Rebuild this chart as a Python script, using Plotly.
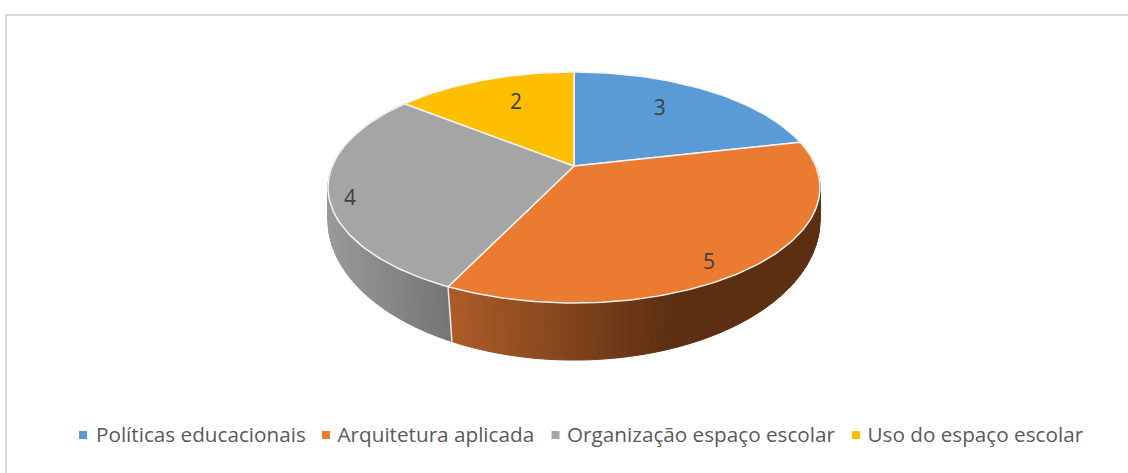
import math
import plotly.graph_objects as go

categories = ["Políticas educacionais", "Arquitetura aplicada", "Organização espaço escolar", "Uso do espaço escolar"]
values = [3, 5, 4, 2]
colors = ["#5B9BD5", "#EB7B30", "#A5A5A5", "#FDBF00"]
# side-wall shading: (screen x, colour) stops per slice; None = hidden wall
wall_stops = [None,
              [(450, (173, 92, 40)), (670, (92, 47, 18)), (830, (92, 47, 18))],
              [(325, (154, 154, 154)), (450, (117, 117, 117))],
              None]
label_r = [0.707, 0.879, 0.92, 0.707]
label_dtheta = [-4.7, 5.3, -3.8, 3.3]
LABEL_DY = 3
legend_marker_x = [83, 326, 555.5, 856]
legend_text_x = [96, 337.5, 567, 867.5]
LEGEND_Y = 435
LEGEND_TEXT_Y = 436.5

# projection of the tilted disc (top face and lower rim)
TOP = dict(cx=574, cy=166, k=0.186, A=111.5, C=241.7)
LOW = dict(cx=574, cy=199, k=0.15, A=136.9, C=243.2)


def proj(theta, r, p):
    t = math.radians(theta)
    u, v = r * math.sin(t), r * math.cos(t)
    d = 1 + p["k"] * v
    return p["cx"] + p["C"] * u / d, p["cy"] - p["A"] * v / d


def wall_color(x, stops):
    if x <= stops[0][0]:
        c = stops[0][1]
    elif x >= stops[-1][0]:
        c = stops[-1][1]
    else:
        for (x0, c0), (x1, c1) in zip(stops, stops[1:]):
            if x0 <= x <= x1:
                f = (x - x0) / (x1 - x0)
                c = tuple(a + (b - a) * f for a, b in zip(c0, c1))
                break
    return "rgb(%d,%d,%d)" % tuple(round(a) for a in c)


fig = go.Figure()
total = sum(values)
edges = [0.0]
for val in values:
    edges.append(edges[-1] + 360.0 * val / total)

# side walls
for i in range(len(values)):
    stops = wall_stops[i]
    if stops is None:
        continue
    a0, a1 = edges[i], edges[i + 1]
    n = int((a1 - a0) / 1.5)
    for j in range(n):
        t0 = a0 + (a1 - a0) * j / n
        t1 = a0 + (a1 - a0) * (j + 1) / n
        p = [proj(t0, 1, TOP), proj(t1, 1, TOP), proj(t1, 1, LOW), proj(t0, 1, LOW)]
        col = wall_color(sum(q[0] for q in p) / 4, stops)
        fig.add_trace(go.Scatter(x=[q[0] for q in p] + [p[0][0]], y=[q[1] for q in p] + [p[0][1]],
                                 mode="lines", fill="toself", fillcolor=col,
                                 line=dict(color=col, width=1), hoverinfo="skip", showlegend=False))

# seams on the wall
for i in range(len(values)):
    if wall_stops[i] is not None and wall_stops[i - 1] is not None:
        a, b = proj(edges[i], 1, TOP), proj(edges[i], 1, LOW)
        fig.add_trace(go.Scatter(x=[a[0], b[0]], y=[a[1], b[1]], mode="lines",
                                 line=dict(color="#E8E8E8", width=1.5), hoverinfo="skip", showlegend=False))

# top face
for i in range(len(values)):
    a0, a1 = edges[i], edges[i + 1]
    n = max(2, int(a1 - a0))
    xs, ys = [TOP["cx"]], [TOP["cy"]]
    for j in range(n + 1):
        x, y = proj(a0 + (a1 - a0) * j / n, 1, TOP)
        xs.append(x)
        ys.append(y)
    xs.append(TOP["cx"])
    ys.append(TOP["cy"])
    fig.add_trace(go.Scatter(x=xs, y=ys, mode="lines", fill="toself", fillcolor=colors[i],
                             line=dict(color="#F4F4F4", width=1.5), hoverinfo="skip", showlegend=False))

# value labels
lx, ly = [], []
for i in range(len(values)):
    x, y = proj((edges[i] + edges[i + 1]) / 2 + label_dtheta[i], label_r[i], TOP)
    lx.append(x)
    ly.append(y + LABEL_DY)
fig.add_trace(go.Scatter(x=lx, y=ly, mode="text", text=[str(v) for v in values],
                         textposition="middle center",
                         textfont=dict(family="Open Sans", size=21, color="#404040"),
                         hoverinfo="skip", showlegend=False))

# legend row
for name, col, mx, tx in zip(categories, colors, legend_marker_x, legend_text_x):
    fig.add_trace(go.Scatter(x=[mx], y=[LEGEND_Y], mode="markers", name=name, showlegend=False,
                             marker=dict(symbol="square", size=8, color=col, line=dict(width=0)),
                             hoverinfo="name"))
    fig.add_trace(go.Scatter(x=[tx], y=[LEGEND_TEXT_Y], mode="text", text=[name], textposition="middle right",
                             textfont=dict(family="Open Sans", size=20.7, color="#595959"),
                             hoverinfo="skip", showlegend=False))

fig.update_layout(
    width=1128, height=473, margin=dict(l=0, r=0, t=0, b=0),
    paper_bgcolor="white", plot_bgcolor="white", showlegend=False,
    xaxis=dict(range=[0, 1128], visible=False, domain=[0, 1]),
    yaxis=dict(range=[473, 0], visible=False, domain=[0, 1]),
    shapes=[
        dict(type="line", xref="x", yref="y", x0=5, x1=1128, y0=15, y1=15, line=dict(color="#D9D9D9", width=2)),
        dict(type="line", xref="x", yref="y", x0=6, x1=6, y0=14, y1=473, line=dict(color="#D9D9D9", width=2)),
    ],
)
fig.write_html("out.html", config={"displayModeBar": False},
               post_script="document.body.style.margin='0';document.body.style.overflow='hidden';")
